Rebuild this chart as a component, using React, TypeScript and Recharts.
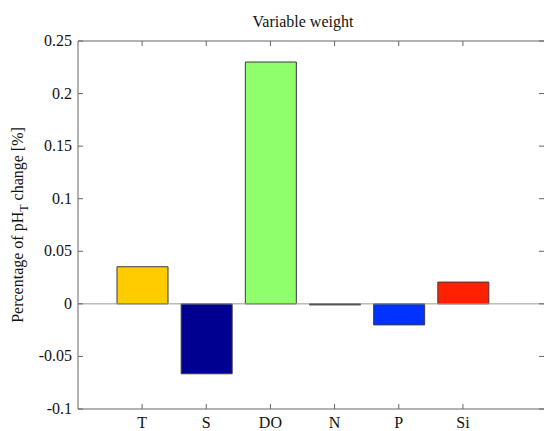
import { BarChart, Bar, XAxis, YAxis, Cell, ReferenceLine } from "recharts";

const categories = ["T", "S", "DO", "N", "P", "Si"];
const weights = [0.0353, -0.0665, 0.23, -0.001, -0.02, 0.0207];
const barColors = ["#FFCC00", "#000090", "#8FFF6B", "#202020", "#0033FF", "#FF2000"];
const yTicks = [-0.1, -0.05, 0, 0.05, 0.1, 0.15, 0.2, 0.25];

const data = categories.map((c, i) => ({ name: c, value: weights[i] }));

const FONT = "'Liberation Serif', 'Times New Roman', serif";
const AXIS = "#666";
const TICK = 5;

const bottomTick = (p: any) => (
  <text x={p.x} y={p.y + 19} textAnchor="middle" fontFamily={FONT} fontSize={16} fill="#111">
    {p.payload.value}
  </text>
);

const leftTick = (p: any) => (
  <text x={p.x - 6} y={p.y + 5} textAnchor="end" fontFamily={FONT} fontSize={16} fill="#111">
    {String(p.payload.value)}
  </text>
);

// inward tick marks (matlab style), drawn from the reference line's end points
const yTickShape = (p: any) => {
  const left = Math.min(p.x1, p.x2);
  const right = Math.max(p.x1, p.x2);
  return (
    <g>
      <line x1={left} x2={left + TICK} y1={p.y1} y2={p.y1} stroke={AXIS} strokeWidth={1} />
      <line x1={right} x2={right - TICK} y1={p.y1} y2={p.y1} stroke={AXIS} strokeWidth={1} />
    </g>
  );
};

const xTickShape = (p: any) => {
  const top = Math.min(p.y1, p.y2);
  const bottom = Math.max(p.y1, p.y2);
  return (
    <g>
      <line x1={p.x1} x2={p.x1} y1={top} y2={top + TICK} stroke={AXIS} strokeWidth={1} />
      <line x1={p.x1} x2={p.x1} y1={bottom} y2={bottom - TICK} stroke={AXIS} strokeWidth={1} />
    </g>
  );
};

export default function App() {
  return (
    <div style={{ position: "absolute", left: 0, top: 0, background: "#fff" }}>
      <BarChart
        width={544}
        height={431}
        data={data}
        margin={{ top: 41, right: 0, bottom: 0, left: 0 }}
      >
        <XAxis
          dataKey="name"
          height={22}
          padding={{ left: 32, right: 49 }}
          tickSize={0}
          tickMargin={0}
          tickLine={false}
          tick={bottomTick}
          stroke={AXIS}
          interval={0}
        />
        <YAxis
          width={78}
          domain={[-0.1, 0.25]}
          ticks={yTicks}
          tickSize={0}
          tickMargin={0}
          tickLine={false}
          tick={leftTick}
          stroke={AXIS}
          interval={0}
          label={{
            content: () => (
              <text
                transform="translate(23,225) rotate(-90)"
                textAnchor="middle"
                fontFamily={FONT}
                fontSize={16}
                fill="#111"
              >
                Percentage of pH
                <tspan dy={5} fontSize={12}>T</tspan>
                <tspan dy={-5}> change [%]</tspan>
              </text>
            ),
          }}
        />
        <ReferenceLine y={0} stroke="#999" strokeWidth={1} />
        {yTicks.map((v) => (
          <ReferenceLine key={"y" + v} y={v} stroke={AXIS} shape={yTickShape} />
        ))}
        {categories.map((c) => (
          <ReferenceLine key={"x" + c} x={c} stroke={AXIS} shape={xTickShape} />
        ))}
        <ReferenceLine
          y={0.25}
          stroke={AXIS}
          strokeWidth={1}
          label={{
            content: () => (
              <text x={303} y={27} textAnchor="middle" fontFamily={FONT} fontSize={16} fill="#111">
                Variable weight
              </text>
            ),
          }}
        />
        <Bar dataKey="value" barSize={51} stroke="#3a3a3a" strokeWidth={1} isAnimationActive={false}>
          {data.map((d, i) => (
            <Cell key={d.name} fill={barColors[i]} />
          ))}
        </Bar>
      </BarChart>
    </div>
  );
}
